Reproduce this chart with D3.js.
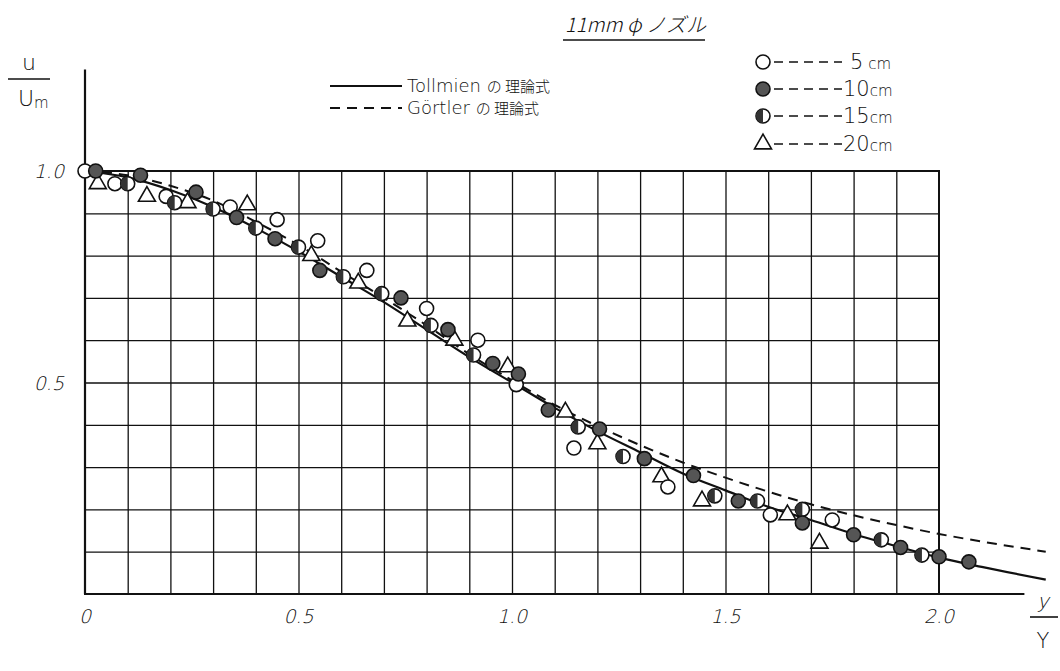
<!DOCTYPE html>
<head>
  <meta charset="utf-8">
  <title>11mm nozzle</title>
  <style>
      body { margin: 0; background: #fff; }
      text { font-family: "DejaVu Sans", "Liberation Sans", sans-serif; font-weight: 200; fill: #111; }
      .jp { font-family: "Noto Sans CJK JP", sans-serif; font-weight: 300; }
  </style>
  <script src="https://d3js.org/d3.v7.js"></script>
</head>
<body>
<svg id="chart" width="1060" height="671"></svg>

<script>
    // ticks and labels
    const xTicks = [0, 0.5, 1.0, 1.5, 2.0];
    const xTickLabels = ["0", "0.5", "1.0", "1.5", "2.0"];
    const yTicks = [0.5, 1.0];
    const yTickLabels = ["0.5", "1.0"];
    const gridX = [0.1, 0.2, 0.3, 0.4, 0.5, 0.6, 0.7, 0.8, 0.9, 1.0, 1.1, 1.2, 1.3, 1.4, 1.5, 1.6, 1.7, 1.8, 1.9];
    const gridY = [0.1, 0.2, 0.3, 0.4, 0.5, 0.6, 0.7, 0.8, 0.9];

    // theoretical curves
    const tollmien = [[0, 1.0], [0.1, 0.985], [0.2, 0.955], [0.3, 0.915], [0.4, 0.865], [0.5, 0.81], [0.6, 0.75],
        [0.7, 0.69], [0.8, 0.625], [0.9, 0.56], [1.0, 0.5], [1.1, 0.44], [1.2, 0.385], [1.3, 0.335], [1.4, 0.285],
        [1.5, 0.245], [1.6, 0.206], [1.7, 0.175], [1.8, 0.142], [1.9, 0.113], [2.0, 0.086], [2.1, 0.064], [2.25, 0.034]];
    const goertler = [[0, 1.0], [0.1, 0.99], [0.2, 0.965], [0.3, 0.93], [0.4, 0.88], [0.5, 0.825], [0.6, 0.762],
        [0.7, 0.70], [0.8, 0.635], [0.9, 0.567], [1.0, 0.505], [1.1, 0.447], [1.2, 0.397], [1.3, 0.352], [1.4, 0.311],
        [1.5, 0.275], [1.6, 0.242], [1.7, 0.212], [1.8, 0.186], [1.9, 0.163], [2.0, 0.142], [2.1, 0.124], [2.25, 0.10]];

    // measured points, distance from nozzle
    const cm5 = [[0, 1.0], [0.07, 0.97], [0.19, 0.94], [0.34, 0.915], [0.45, 0.885], [0.545, 0.835], [0.66, 0.765],
        [0.80, 0.675], [0.92, 0.60], [1.01, 0.495], [1.145, 0.345], [1.365, 0.253], [1.605, 0.187], [1.75, 0.175]];
    const cm10 = [[0.025, 1.0], [0.13, 0.99], [0.26, 0.95], [0.355, 0.89], [0.445, 0.84], [0.55, 0.765], [0.74, 0.70],
        [0.85, 0.625], [0.955, 0.545], [1.015, 0.52], [1.085, 0.435], [1.205, 0.39], [1.31, 0.32], [1.425, 0.28],
        [1.53, 0.22], [1.68, 0.168], [1.80, 0.14], [1.91, 0.11], [2.0, 0.088], [2.07, 0.076]];
    const cm15 = [[0.1, 0.97], [0.21, 0.925], [0.30, 0.91], [0.40, 0.865], [0.50, 0.82], [0.605, 0.75], [0.695, 0.71],
        [0.81, 0.635], [0.91, 0.565], [1.155, 0.395], [1.26, 0.325], [1.475, 0.232], [1.575, 0.22], [1.68, 0.20],
        [1.865, 0.128], [1.96, 0.092]];
    const cm20 = [[0.03, 0.97], [0.145, 0.94], [0.24, 0.925], [0.38, 0.92], [0.53, 0.80], [0.64, 0.735], [0.755, 0.645],
        [0.865, 0.60], [0.99, 0.537], [1.125, 0.43], [1.20, 0.355], [1.35, 0.277], [1.445, 0.22], [1.645, 0.187], [1.72, 0.12]];

    const svg = d3.select("#chart");

    const x = d3.scaleLinear().domain([0, 2]).range([85, 939]);
    const y = d3.scaleLinear().domain([0, 1]).range([594, 171]);
    const h = y(0) - y(1);
    const w = x(2) - x(0);

    // grid
    const gx = svg.append("g")
        .attr("transform", `translate(0, ${y(0)})`)
        .call(d3.axisBottom(x).tickValues(gridX).tickSize(-h).tickFormat(""));
    gx.select(".domain").remove();
    gx.selectAll("line").attr("stroke", "#111").attr("stroke-width", 1.3);

    const gy = svg.append("g")
        .attr("transform", `translate(${x(0)}, 0)`)
        .call(d3.axisLeft(y).tickValues(gridY).tickSize(-w).tickFormat(""));
    gy.select(".domain").remove();
    gy.selectAll("line").attr("stroke", "#111").attr("stroke-width", 1.3);

    // frame
    svg.append("rect")
        .attr("x", x(0)).attr("y", y(1))
        .attr("width", w).attr("height", h)
        .attr("fill", "none").attr("stroke", "#111").attr("stroke-width", 2);

    // long axes
    svg.append("line")
        .attr("x1", x(0)).attr("x2", x(0))
        .attr("y1", y(0)).attr("y2", y(1.24))
        .attr("stroke", "#111").attr("stroke-width", 2.2);
    svg.append("line")
        .attr("x1", x(0)).attr("x2", x(2.2))
        .attr("y1", y(0)).attr("y2", y(0))
        .attr("stroke", "#111").attr("stroke-width", 2.2);

    // tick labels (thin, slanted like the hand lettering)
    svg.selectAll(".xl")
        .data(xTicks)
        .join("text")
        .attr("transform", d => `translate(${x(d)}, 623) skewX(-14)`)
        .attr("text-anchor", "middle")
        .style("font-size", "19px")
        .text((d, i) => xTickLabels[i]);
    svg.selectAll(".yl")
        .data(yTicks)
        .join("text")
        .attr("transform", d => `translate(64, ${y(d) + 7}) skewX(-14)`)
        .attr("text-anchor", "end")
        .style("font-size", "19px")
        .text((d, i) => yTickLabels[i]);

    // curves
    const line = d3.line().x(d => x(d[0])).y(d => y(d[1])).curve(d3.curveMonotoneX);
    svg.append("path")
        .datum(goertler)
        .attr("d", line)
        .attr("fill", "none").attr("stroke", "#111").attr("stroke-width", 2)
        .attr("stroke-dasharray", "10,7");
    svg.append("path")
        .datum(tollmien)
        .attr("d", line)
        .attr("fill", "none").attr("stroke", "#111").attr("stroke-width", 2.2);

    // markers
    const r = 7;
    const halfPath = (cx, cy) => `M${cx},${cy - r}A${r},${r} 0 0 0 ${cx},${cy + r}Z`;

    function openCircle(g, cx, cy) {
        g.append("circle").attr("cx", cx).attr("cy", cy).attr("r", r)
            .attr("fill", "#fff").attr("stroke", "#111").attr("stroke-width", 1.6);
    }
    function darkCircle(g, cx, cy) {
        g.append("circle").attr("cx", cx).attr("cy", cy).attr("r", r)
            .attr("fill", "#555").attr("stroke", "#111").attr("stroke-width", 1.6);
    }
    function halfCircle(g, cx, cy) {
        openCircle(g, cx, cy);
        g.append("path").attr("d", halfPath(cx, cy)).attr("fill", "#333");
    }
    const tri = d3.symbol().type(d3.symbolTriangle).size(125);
    function triangle(g, cx, cy) {
        g.append("path").attr("d", tri).attr("transform", `translate(${cx},${cy})`)
            .attr("fill", "#fff").attr("stroke", "#111").attr("stroke-width", 1.6);
    }

    const pts = svg.append("g");
    cm20.forEach(d => triangle(pts, x(d[0]), y(d[1])));
    cm5.forEach(d => openCircle(pts, x(d[0]), y(d[1])));
    cm15.forEach(d => halfCircle(pts, x(d[0]), y(d[1])));
    cm10.forEach(d => darkCircle(pts, x(d[0]), y(d[1])));

    // axis titles
    svg.append("text").attr("x", 29).attr("y", 70).attr("text-anchor", "middle")
        .style("font-size", "22px").text("u");
    svg.append("line").attr("x1", 8).attr("x2", 50).attr("y1", 79).attr("y2", 79)
        .attr("stroke", "#111").attr("stroke-width", 1.6);
    svg.append("text").attr("x", 18).attr("y", 106)
        .style("font-size", "22px").text("U")
        .append("tspan").attr("dy", 2).style("font-size", "15px").text("m");

    svg.append("text").attr("transform", "translate(1043, 608) skewX(-14)").attr("text-anchor", "middle")
        .style("font-size", "20px").text("y");
    svg.append("line").attr("x1", 1030).attr("x2", 1058).attr("y1", 617).attr("y2", 617)
        .attr("stroke", "#111").attr("stroke-width", 1.6);
    svg.append("text").attr("x", 1043).attr("y", 648).attr("text-anchor", "middle")
        .style("font-size", "21px").text("Y");

    // title
    svg.append("text").attr("x", 565).attr("y", 32)
        .attr("class", "jp")
        .style("font-size", "20px").style("font-style", "italic")
        .text("11mm φ ノズル");
    svg.append("line").attr("x1", 563).attr("x2", 705).attr("y1", 40).attr("y2", 40)
        .attr("stroke", "#111").attr("stroke-width", 1.6);

    // curve legend
    const curveLegend = [
        {label: "Tollmien", dash: null, yy: 86},
        {label: "Görtler", dash: "10,7", yy: 108}
    ];
    curveLegend.forEach(c => {
        svg.append("line").attr("x1", 330).attr("x2", 402).attr("y1", c.yy).attr("y2", c.yy)
            .attr("stroke", "#111").attr("stroke-width", 1.8)
            .attr("stroke-dasharray", c.dash);
        const t = svg.append("text").attr("x", 407).attr("y", c.yy + 6).style("font-size", "18px");
        t.append("tspan").text(c.label + " ");
        t.append("tspan").attr("class", "jp").style("font-size", "15px").text("の 理論式");
    });

    // marker legend
    const markLegend = [
        {num: "5", unit: " cm", draw: openCircle, yy: 62},
        {num: "10", unit: "cm", draw: darkCircle, yy: 89},
        {num: "15", unit: "cm", draw: halfCircle, yy: 116},
        {num: "20", unit: "cm", draw: triangle, yy: 144}
    ];
    markLegend.forEach(m => {
        m.draw(svg, 763, m.yy);
        svg.append("line").attr("x1", 774).attr("x2", 842).attr("y1", m.yy).attr("y2", m.yy)
            .attr("stroke", "#111").attr("stroke-width", 1.5).attr("stroke-dasharray", "9,6");
        const t = svg.append("text").attr("x", m.num === "5" ? 850 : 843).attr("y", m.yy + 7)
            .style("font-size", "21px");
        t.append("tspan").text(m.num);
        t.append("tspan").style("font-size", "15px").text(m.unit);
    });
</script>
</body>
